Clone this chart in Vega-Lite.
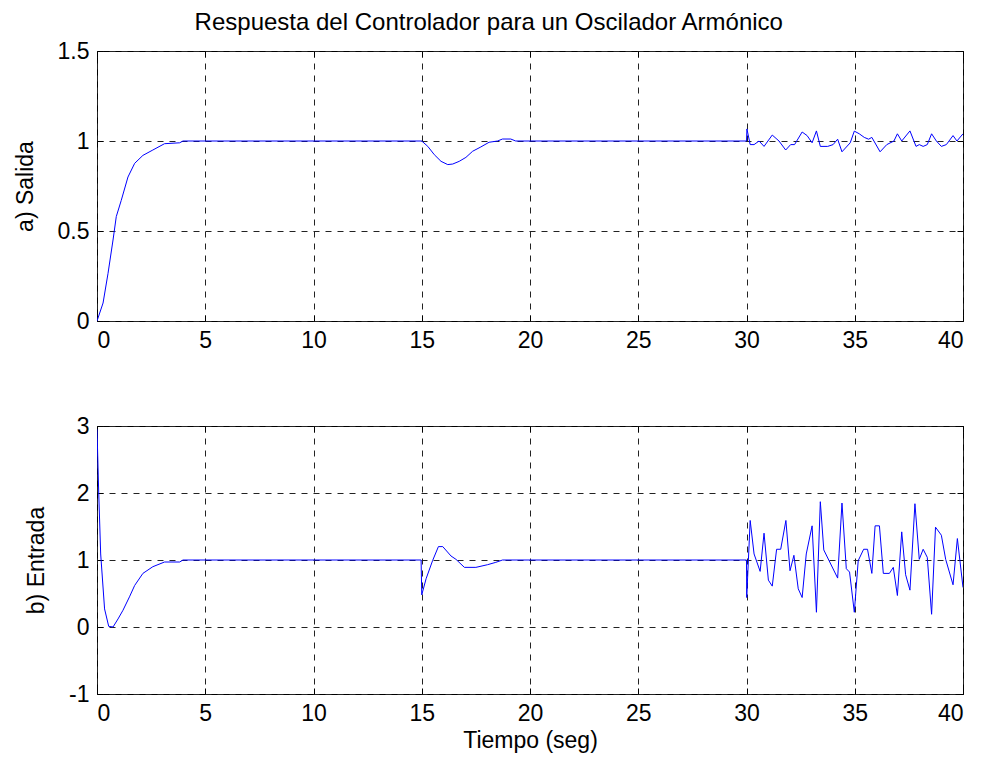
{
  "$schema": "https://vega.github.io/schema/vega-lite/v6.json",
  "background": "white",
  "padding": {"left": 13, "top": 10, "right": 5, "bottom": 5},
  "title": {
    "text": "Respuesta del Controlador para un Oscilador Armónico",
    "font": "Liberation Sans",
    "fontSize": 24,
    "fontWeight": "normal",
    "color": "black",
    "anchor": "middle",
    "offset": 5
  },
  "config": {
    "view": {"stroke": "black", "strokeWidth": 1},
    "axis": {
      "labelFont": "Liberation Sans",
      "labelFontSize": 23,
      "labelColor": "black",
      "labelExpr": "datum.value",
      "titleFont": "Liberation Sans",
      "titleFontSize": 23,
      "titleFontWeight": "normal",
      "titleColor": "black",
      "domain": false,
      "tickColor": "black",
      "tickSize": -6,
      "labelPadding": 14,
      "grid": true,
      "gridColor": "#222222",
      "gridDash": [6, 6],
      "gridWidth": 1
    }
  },
  "datasets": {
    "salida": [
      {"t": 0, "v": 0}, {"t": 0.28, "v": 0.1}, {"t": 0.51, "v": 0.265}, {"t": 0.74, "v": 0.45},
      {"t": 0.89, "v": 0.58}, {"t": 1.12, "v": 0.67}, {"t": 1.43, "v": 0.8}, {"t": 1.74, "v": 0.876},
      {"t": 2.12, "v": 0.92}, {"t": 2.58, "v": 0.95}, {"t": 3.12, "v": 0.985}, {"t": 3.82, "v": 0.99},
      {"t": 3.97, "v": 1.0}, {"t": 15.0, "v": 1.0}, {"t": 15.28, "v": 0.97}, {"t": 15.58, "v": 0.924},
      {"t": 15.89, "v": 0.887}, {"t": 16.2, "v": 0.869}, {"t": 16.43, "v": 0.872}, {"t": 16.73, "v": 0.887},
      {"t": 17.04, "v": 0.909}, {"t": 17.35, "v": 0.943}, {"t": 17.73, "v": 0.967}, {"t": 18.11, "v": 0.993},
      {"t": 18.5, "v": 1.0}, {"t": 18.73, "v": 1.011}, {"t": 19.11, "v": 1.011}, {"t": 19.34, "v": 1.0},
      {"t": 30.0, "v": 1.0}, {"t": 30.02, "v": 1.067}, {"t": 30.17, "v": 0.98}, {"t": 30.35, "v": 0.98},
      {"t": 30.58, "v": 1.0}, {"t": 30.81, "v": 0.97}, {"t": 31.19, "v": 1.033}, {"t": 31.5, "v": 1.0},
      {"t": 31.81, "v": 0.95}, {"t": 32.04, "v": 0.98}, {"t": 32.22, "v": 0.98}, {"t": 32.57, "v": 1.05},
      {"t": 32.8, "v": 1.03}, {"t": 33.03, "v": 0.99}, {"t": 33.23, "v": 1.056}, {"t": 33.41, "v": 0.97},
      {"t": 33.75, "v": 0.97}, {"t": 34.0, "v": 0.98}, {"t": 34.21, "v": 1.01}, {"t": 34.41, "v": 0.94},
      {"t": 34.79, "v": 0.99}, {"t": 34.98, "v": 1.055}, {"t": 35.21, "v": 1.04}, {"t": 35.44, "v": 1.02},
      {"t": 35.64, "v": 1.01}, {"t": 35.79, "v": 1.02}, {"t": 36.17, "v": 0.94}, {"t": 36.48, "v": 0.98},
      {"t": 36.81, "v": 1.0}, {"t": 36.97, "v": 1.04}, {"t": 37.17, "v": 1.0}, {"t": 37.55, "v": 1.056},
      {"t": 37.83, "v": 0.97}, {"t": 37.98, "v": 0.98}, {"t": 38.16, "v": 0.97}, {"t": 38.35, "v": 0.98},
      {"t": 38.55, "v": 1.04}, {"t": 38.77, "v": 1.0}, {"t": 39.0, "v": 0.97}, {"t": 39.23, "v": 0.98},
      {"t": 39.54, "v": 1.03}, {"t": 39.72, "v": 1.0}, {"t": 40.0, "v": 1.04}
    ],
    "entrada": [
      {"t": 0, "v": 2.95}, {"t": 0.08, "v": 2.0}, {"t": 0.17, "v": 1.09}, {"t": 0.35, "v": 0.27},
      {"t": 0.54, "v": 0.01}, {"t": 0.74, "v": 0.0}, {"t": 0.97, "v": 0.12}, {"t": 1.2, "v": 0.25},
      {"t": 1.5, "v": 0.45}, {"t": 1.74, "v": 0.62}, {"t": 2.12, "v": 0.8}, {"t": 2.58, "v": 0.9},
      {"t": 3.12, "v": 0.97}, {"t": 3.82, "v": 0.97}, {"t": 3.97, "v": 1.0}, {"t": 14.97, "v": 1.0},
      {"t": 15.0, "v": 0.48}, {"t": 15.2, "v": 0.72}, {"t": 15.5, "v": 0.99}, {"t": 15.77, "v": 1.2},
      {"t": 15.97, "v": 1.2}, {"t": 16.35, "v": 1.06}, {"t": 16.58, "v": 1.01}, {"t": 16.97, "v": 0.89},
      {"t": 17.5, "v": 0.89}, {"t": 18.04, "v": 0.93}, {"t": 18.42, "v": 0.965}, {"t": 18.73, "v": 1.0},
      {"t": 30.0, "v": 1.0}, {"t": 30.01, "v": 0.44}, {"t": 30.17, "v": 1.59}, {"t": 30.35, "v": 1.09},
      {"t": 30.63, "v": 0.83}, {"t": 30.81, "v": 1.4}, {"t": 31.01, "v": 0.7}, {"t": 31.19, "v": 0.61},
      {"t": 31.39, "v": 1.16}, {"t": 31.58, "v": 1.16}, {"t": 31.82, "v": 1.59}, {"t": 32.01, "v": 0.84},
      {"t": 32.19, "v": 1.07}, {"t": 32.39, "v": 0.57}, {"t": 32.57, "v": 0.44}, {"t": 32.76, "v": 1.09},
      {"t": 33.03, "v": 1.51}, {"t": 33.23, "v": 0.22}, {"t": 33.41, "v": 1.87}, {"t": 33.57, "v": 1.15},
      {"t": 34.21, "v": 0.73}, {"t": 34.41, "v": 1.85}, {"t": 34.61, "v": 0.87}, {"t": 34.76, "v": 0.82},
      {"t": 34.98, "v": 0.22}, {"t": 35.16, "v": 0.99}, {"t": 35.41, "v": 1.16}, {"t": 35.59, "v": 1.16},
      {"t": 35.79, "v": 0.8}, {"t": 35.94, "v": 1.51}, {"t": 36.14, "v": 1.51}, {"t": 36.32, "v": 0.8},
      {"t": 36.6, "v": 0.8}, {"t": 36.78, "v": 0.89}, {"t": 36.97, "v": 0.47}, {"t": 37.17, "v": 1.42},
      {"t": 37.35, "v": 0.78}, {"t": 37.55, "v": 0.55}, {"t": 37.78, "v": 1.84}, {"t": 37.98, "v": 1.01},
      {"t": 38.16, "v": 1.16}, {"t": 38.35, "v": 1.04}, {"t": 38.55, "v": 0.19}, {"t": 38.73, "v": 1.49},
      {"t": 39.0, "v": 1.37}, {"t": 39.2, "v": 1.01}, {"t": 39.54, "v": 0.63}, {"t": 39.74, "v": 1.32},
      {"t": 40.0, "v": 0.59}
    ]
  },
  "vconcat": [
    {
      "width": 866,
      "height": 270,
      "data": {"name": "salida"},
      "layer": [
        {
          "mark": {"type": "line", "color": "#0000ff", "strokeWidth": 1, "clip": true},
          "encoding": {
            "x": {"field": "t", "type": "quantitative", "scale": {"domain": [0, 40], "nice": false},
                  "axis": {"title": null, "values": [0, 5, 10, 15, 20, 25, 30, 35, 40]}},
            "y": {"field": "v", "type": "quantitative", "scale": {"domain": [0, 1.5], "nice": false, "zero": false},
                  "axis": {"title": "a) Salida", "values": [0, 0.5, 1, 1.5], "titlePadding": 20}}
          }
        },
        {
          "mark": {"type": "line", "opacity": 0},
          "encoding": {
            "x": {"field": "t", "type": "quantitative",
                  "axis": {"orient": "top", "labels": false, "grid": false, "title": null, "values": [0, 5, 10, 15, 20, 25, 30, 35, 40]}},
            "y": {"field": "v", "type": "quantitative",
                  "axis": {"orient": "right", "labels": false, "grid": false, "title": null, "values": [0, 0.5, 1, 1.5]}}
          }
        }
      ],
      "resolve": {"axis": {"x": "independent", "y": "independent"}}
    },
    {
      "width": 866,
      "height": 268,
      "data": {"name": "entrada"},
      "layer": [
        {
          "mark": {"type": "line", "color": "#0000ff", "strokeWidth": 1, "clip": true},
          "encoding": {
            "x": {"field": "t", "type": "quantitative", "scale": {"domain": [0, 40], "nice": false},
                  "axis": {"title": "Tiempo (seg)", "values": [0, 5, 10, 15, 20, 25, 30, 35, 40], "titlePadding": 4}},
            "y": {"field": "v", "type": "quantitative", "scale": {"domain": [-1, 3], "nice": false, "zero": false},
                  "axis": {"title": "b) Entrada", "values": [-1, 0, 1, 2, 3], "titlePadding": 20}}
          }
        },
        {
          "mark": {"type": "line", "opacity": 0},
          "encoding": {
            "x": {"field": "t", "type": "quantitative",
                  "axis": {"orient": "top", "labels": false, "grid": false, "title": null, "values": [0, 5, 10, 15, 20, 25, 30, 35, 40]}},
            "y": {"field": "v", "type": "quantitative",
                  "axis": {"orient": "right", "labels": false, "grid": false, "title": null, "values": [-1, 0, 1, 2, 3]}}
          }
        }
      ],
      "resolve": {"axis": {"x": "independent", "y": "independent"}}
    }
  ],
  "spacing": 105,
  "bounds": "flush"
}
